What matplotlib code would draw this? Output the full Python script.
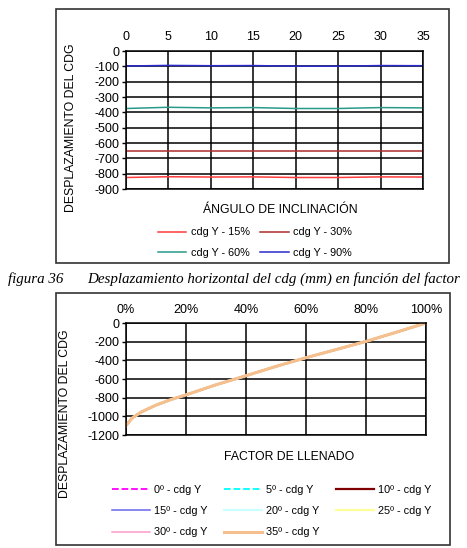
import matplotlib
matplotlib.use("Agg")
import matplotlib.pyplot as plt
from matplotlib.patches import Rectangle
from matplotlib.ticker import FuncFormatter

plt.rcParams['font.family'] = ['Liberation Sans', 'DejaVu Sans']
plt.rcParams['axes.unicode_minus'] = False

# top chart: cdg Y vs inclination angle
angles = [0, 5, 10, 15, 20, 25, 30, 35]
cdg_y_15 = [-825, -820, -822, -821, -825, -825, -821, -822]
cdg_y_30 = [-655, -655, -655, -655, -655, -655, -655, -655]
cdg_y_60 = [-375, -367, -371, -369, -375, -375, -369, -371]
cdg_y_90 = [-98, -94, -96, -95, -99, -99, -95, -96]

# bottom chart: cdg Y vs fill factor (all angles overlap)
fill = [0, 0.02, 0.05, 0.10, 0.15, 0.20, 0.30, 0.40, 0.50, 0.60, 0.70, 0.80, 0.90, 1.00]
cdg_y_fill = [-1100, -1020, -955, -880, -820, -770, -662, -565, -465, -372, -285, -197, -100, 0]
angle_labels = ["0º - cdg Y", "5º - cdg Y", "10º - cdg Y", "15º - cdg Y",
                "20º - cdg Y", "25º - cdg Y", "30º - cdg Y", "35º - cdg Y"]

W, H = 467, 548
fig = plt.figure(figsize=(W / 100, H / 100), dpi=100)

def fx(px):
    return px / W

def fy(py):
    return 1 - py / H

def rowwise(handles, labels, ncol):
    # matplotlib fills legend columns first, reference fills rows first
    nrow = -(-len(handles) // ncol)
    order = []
    for c in range(ncol):
        for r in range(nrow):
            i = r * ncol + c
            if i < len(handles):
                order.append(i)
    return [handles[i] for i in order], [labels[i] for i in order]

# frames around both charts
fig.patches.append(Rectangle((fx(56), fy(263)), fx(449) - fx(56), fy(9) - fy(263),
                             transform=fig.transFigure, fill=False, ec='#333333', lw=1.2))
fig.patches.append(Rectangle((fx(56), fy(545)), fx(450) - fx(56), fy(293) - fy(545),
                             transform=fig.transFigure, fill=False, ec='#333333', lw=1.2))

def style(ax, pad_x):
    ax.grid(True, color='black', lw=1.1)
    ax.set_axisbelow(True)
    for s in ax.spines.values():
        s.set_color('black')
        s.set_linewidth(1.1)
    ax.xaxis.tick_top()
    ax.tick_params(axis='x', length=0, pad=pad_x, labelsize=9)
    ax.tick_params(axis='y', direction='out', length=3, width=1, pad=2, labelsize=9)

# ---- top
ax1 = fig.add_axes([fx(126), fy(189), fx(423) - fx(126), fy(51) - fy(189)])
ax1.plot(angles, cdg_y_15, color='#ff3b3b', lw=1.1, label='cdg Y - 15%')
ax1.plot(angles, cdg_y_30, color='#b02a2a', lw=1.1, label='cdg Y - 30%')
ax1.plot(angles, cdg_y_60, color='#2a9a8a', lw=1.1, label='cdg Y - 60%')
ax1.plot(angles, cdg_y_90, color='#2a2acc', lw=1.1, label='cdg Y - 90%')
ax1.set_xlim(0, 35)
ax1.set_ylim(-900, 0)
ax1.set_xticks(angles)
ax1.set_yticks(range(-900, 1, 100))
style(ax1, 6)
fig.text(fx(71), fy(128), 'DESPLAZAMIENTO DEL CDG', rotation=90, ha='center', va='center', fontsize=8.8)
fig.text(fx(280), fy(210), 'ÁNGULO DE INCLINACIÓN', ha='center', va='center', fontsize=8.8)
h, l = rowwise(*ax1.get_legend_handles_labels(), 2)
fig.legend(h, l, loc='center', bbox_to_anchor=(fx(255), fy(242.5)), ncol=2, frameon=False,
           fontsize=7.8, handlelength=2.6, handletextpad=0.4, columnspacing=1.0,
           labelspacing=0.95)

# caption between charts (cut at the right edge in the source page)
fig.text(fx(8), fy(279), 'figura 36', fontfamily='Liberation Serif', style='italic',
         fontsize=10.8, ha='left', va='center')
fig.text(fx(87), fy(279), 'Desplazamiento horizontal del cdg (mm) en función del factor',
         fontfamily='Liberation Serif', style='italic', fontsize=10.8, ha='left', va='center')

# ---- bottom
ax2 = fig.add_axes([fx(126), fy(435), fx(426) - fx(126), fy(323) - fy(435)])
colors = ['#ff00ff', '#00ffff', '#800000', '#6666ee', '#ccffff', '#ffff99', '#ff99cc', '#f5c08e']
styles = ['--', '--', '-', '-', '-', '-', '-', '-']
widths = [1.3, 1.3, 1.6, 1.1, 1.6, 1.6, 1.1, 2.2]
for lab, c, ls, lw in zip(angle_labels, colors, styles, widths):
    ax2.plot(fill, cdg_y_fill, color=c, ls=ls, lw=lw, label=lab)
ax2.set_xlim(0, 1)
ax2.set_ylim(-1200, 0)
ax2.set_xticks([0, 0.2, 0.4, 0.6, 0.8, 1.0])
ax2.xaxis.set_major_formatter(FuncFormatter(lambda v, p: '%d%%' % round(v * 100)))
ax2.set_yticks(range(-1200, 1, 200))
style(ax2, 5)
fig.text(fx(65), fy(414), 'DESPLAZAMIENTO DEL CDG', rotation=90, ha='center', va='center', fontsize=8.8)
fig.text(fx(289), fy(457), 'FACTOR DE LLENADO', ha='center', va='center', fontsize=8.8)
h, l = rowwise(*ax2.get_legend_handles_labels(), 3)
fig.legend(h, l, loc='center', bbox_to_anchor=(fx(272), fy(511)), ncol=3, frameon=False,
           fontsize=7.8, handlelength=3.5, handletextpad=0.4, columnspacing=1.5,
           labelspacing=1.05)

fig.savefig('out.png', dpi=100)
